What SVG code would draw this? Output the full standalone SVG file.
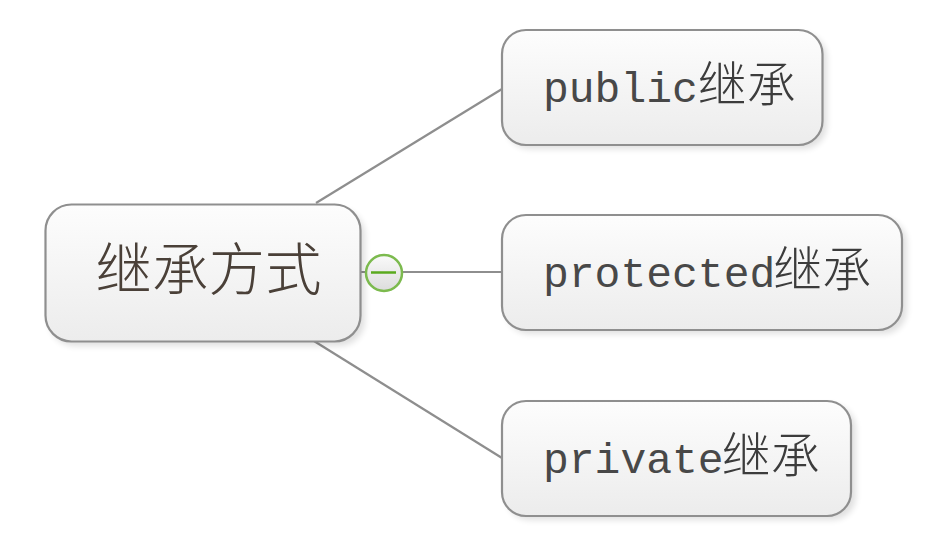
<svg xmlns="http://www.w3.org/2000/svg" width="951" height="537" viewBox="0 0 951 537">
<style>
.box{fill:url(#g);stroke:#8f8f8f;stroke-width:2.2}
.shadow{fill:#000;opacity:.12;filter:url(#b)}
.conn{fill:none;stroke:#8e8e8e;stroke-width:2.2}
.lat{font-family:"Liberation Mono",monospace;font-size:43px;fill:#484848}
.cjk{font-family:"Noto Sans CJK SC","Noto Sans CJK JP",sans-serif;font-size:49px;font-weight:300;fill:#3c3c3c}
.main{font-family:"Noto Sans CJK SC","Noto Sans CJK JP",sans-serif;font-size:56.500px;font-weight:300;fill:#4a4038}
</style>
<defs>
<linearGradient id="g" x1="0" y1="0" x2="0" y2="1"><stop offset="0" stop-color="#fdfdfd"/><stop offset="1" stop-color="#ececec"/></linearGradient>
<linearGradient id="t" x1="0" y1="0" x2="0" y2="1"><stop offset="0" stop-color="#fafafa"/><stop offset="1" stop-color="#dcdcdc"/></linearGradient>
<filter id="b" x="-10%" y="-20%" width="120%" height="140%"><feGaussianBlur stdDeviation="3"/></filter>
</defs>
<rect width="951" height="537" fill="#fff"/>
<g id="connectors">
<path class="conn" d="M316 203L502 89"/>
<path class="conn" d="M360 272H502"/>
<path class="conn" d="M314 341L502 458"/>
</g>
<g id="node-root">
<rect class="shadow" x="49" y="209" width="316" height="137" rx="26"/>
<rect class="box" x="45.500" y="204.500" width="315" height="137" rx="26"/>
<text class="main" x="95.500" y="290">继承方式</text>
</g>
<g id="node-public">
<rect class="shadow" x="506" y="34" width="321" height="115" rx="24"/>
<rect class="box" x="502" y="30" width="320.500" height="115" rx="24"/>
<text x="543" y="102"><tspan class="lat">public</tspan><tspan class="cjk" y="102" dx="0">继承</tspan></text>
</g>
<g id="node-protected">
<rect class="shadow" x="506" y="219" width="401" height="115" rx="24"/>
<rect class="box" x="502" y="215" width="400" height="115" rx="24"/>
<text x="543" y="287"><tspan class="lat">protected</tspan><tspan class="cjk" y="287" dx="-2">继承</tspan></text>
</g>
<g id="node-private">
<rect class="shadow" x="506" y="405" width="350" height="115" rx="24"/>
<rect class="box" x="502" y="401" width="349" height="115" rx="24"/>
<text x="543" y="473"><tspan class="lat">private</tspan><tspan class="cjk" y="473" dx="-2">继承</tspan></text>
</g>
<g id="collapse-toggle">
<circle cx="384" cy="273" r="18" fill="url(#t)" stroke="#7cba4e" stroke-width="2.500"/>
<path d="M371 272.500H396" stroke="#5aaa1e" stroke-width="2.500" fill="none"/>
</g>
</svg>
